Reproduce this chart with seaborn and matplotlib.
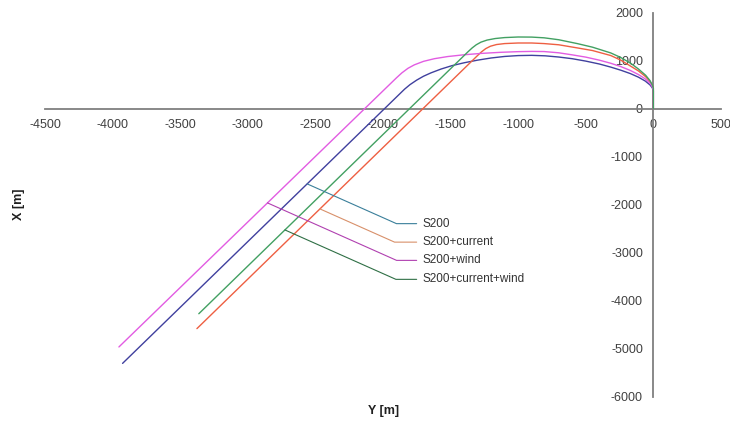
import numpy as np
import pandas as pd
import matplotlib
matplotlib.use("Agg")
import matplotlib.pyplot as plt
import seaborn as sns

# ---- data (Y [m] horizontal, X [m] vertical) ----
series_names = ["S200", "S200+current", "S200+wind", "S200+current+wind"]

s200_y = [0, 0, -8, -25, -60, -110, -170, -240, -315, -400, -500, -600, -700, -800,
          -900, -1000, -1100, -1200, -1300, -1400, -1490, -1570, -1645, -1700, -1750,
          -1800, -1840, -3926]
s200_x = [0, 375, 440, 500, 580, 660, 735, 805, 870, 935, 995, 1045, 1080, 1105,
          1115, 1110, 1092, 1060, 1015, 960, 900, 830, 750, 680, 600,
          505, 411, -5300]

cur_y = [0, 0, -8, -25, -57, -110, -168, -241, -315, -450, -563, -700, -808, -900,
         -1000, -1100, -1160, -1205, -1240, -1270, -1300, -3376]
cur_x = [0, 430, 490, 570, 670, 790, 890, 1015, 1111, 1215, 1270, 1335, 1360, 1372,
         1372, 1360, 1340, 1305, 1255, 1190, 1112, -4576]

wind_y = [0, 0, -8, -25, -60, -110, -170, -240, -315, -400, -500, -600, -700, -808,
          -900, -1000, -1130, -1275, -1400, -1521, -1620, -1700, -1768, -1815, -1860,
          -1900, -3953]
wind_x = [0, 390, 460, 535, 625, 715, 800, 880, 950, 1015, 1078, 1125, 1168, 1194,
          1197, 1192, 1178, 1155, 1127, 1090, 1045, 990, 917, 845, 750,
          647, -4958]

cw_y = [0, 0, -8, -25, -57, -110, -168, -241, -315, -450, -563, -700, -808, -900,
        -1000, -1100, -1170, -1230, -1275, -1310, -1340, -1370, -3362]
cw_x = [0, 430, 500, 590, 700, 830, 950, 1070, 1165, 1285, 1360, 1440, 1480, 1495,
        1497, 1485, 1465, 1433, 1390, 1335, 1270, 1192, -4266]

series_y = [s200_y, cur_y, wind_y, cw_y]
series_x = [s200_x, cur_x, wind_x, cw_x]

line_colors = ["#40409E", "#EE5F42", "#E25CE2", "#42A062"]
leader_colors = ["#3A7F9A", "#D8906A", "#B040B0", "#2F6F45"]

# label positions (data) and curve anchor heights for leader lines
label_x = -1706
label_y = [-2390, -2775, -3155, -3550]
anchor_x_vals = [-1562, -2083, -1958, -2521]   # X[m] at which the leader touches the curve

x_ticks = list(range(-4500, 501, 500))
y_ticks = list(range(-6000, 2001, 1000))

# ---- build table ----
rows = []
for name, ys, xs in zip(series_names, series_y, series_x):
    for i, (a, b) in enumerate(zip(ys, xs)):
        rows.append({"series": name, "order": i, "Y": a, "X": b})
df = pd.DataFrame(rows)

sns.set_style("white")
plt.rcParams["font.family"] = ["Liberation Sans", "DejaVu Sans"]

fig = plt.figure(figsize=(7.3, 4.24), dpi=100)
ax = fig.add_axes([0.0616, 0.0637, 0.926, 0.906])

sns.lineplot(data=df, x="Y", y="X", hue="series", hue_order=series_names,
             palette=dict(zip(series_names, line_colors)), sort=False,
             estimator=None, legend=False, linewidth=1.0, ax=ax, zorder=3)

ax.set_xlim(-4500, 500)
ax.set_ylim(-6000, 2000)
ax.set_xticks(x_ticks)
ax.set_yticks(y_ticks)
ax.set_xticklabels([str(t) for t in x_ticks])
ax.set_yticklabels([str(t) for t in y_ticks])

axis_col = "#7F7F7F"
for side in ["top", "right"]:
    ax.spines[side].set_visible(False)
ax.spines["left"].set_position(("data", 0))
ax.spines["bottom"].set_position(("data", 0))
for side in ["left", "bottom"]:
    ax.spines[side].set_color(axis_col)
    ax.spines[side].set_linewidth(1.3)
    ax.spines[side].set_zorder(2)

ax.tick_params(axis="x", direction="out", length=3, width=1.2, color=axis_col,
               labelsize=9, labelcolor="#404040", pad=4)
ax.tick_params(axis="y", direction="out", length=3, width=1.2, color=axis_col,
               labelsize=9, labelcolor="#404040", pad=4.5)

ax.set_xlabel("Y [m]", fontsize=9, fontweight="bold", color="#202020")
ax.set_ylabel("X [m]", fontsize=9, fontweight="bold", color="#202020")
ax.xaxis.set_label_coords(0.501, -0.022)
ax.yaxis.set_label_coords(-0.030, 0.503)

# data labels with leader lines
for name, ys, xs, lc, ly, ax_val in zip(series_names, series_y, series_x,
                                         leader_colors, label_y, anchor_x_vals):
    seg_x = xs[-2:]
    seg_y = ys[-2:]
    # point on the straight leg of the track at the anchor height
    px = float(np.interp(ax_val, seg_x[::-1], seg_y[::-1]))
    ax.annotate(name, xy=(px, ax_val), xytext=(label_x, ly), textcoords="data",
                ha="left", va="center", fontsize=8.5, color="#333333",
                arrowprops=dict(arrowstyle="-", color=lc, lw=0.8,
                                shrinkA=2, shrinkB=0, relpos=(0, 0.5),
                                connectionstyle="angle,angleA=0,angleB=-24,rad=0"))

fig.savefig("out.png", dpi=100, facecolor="white")
